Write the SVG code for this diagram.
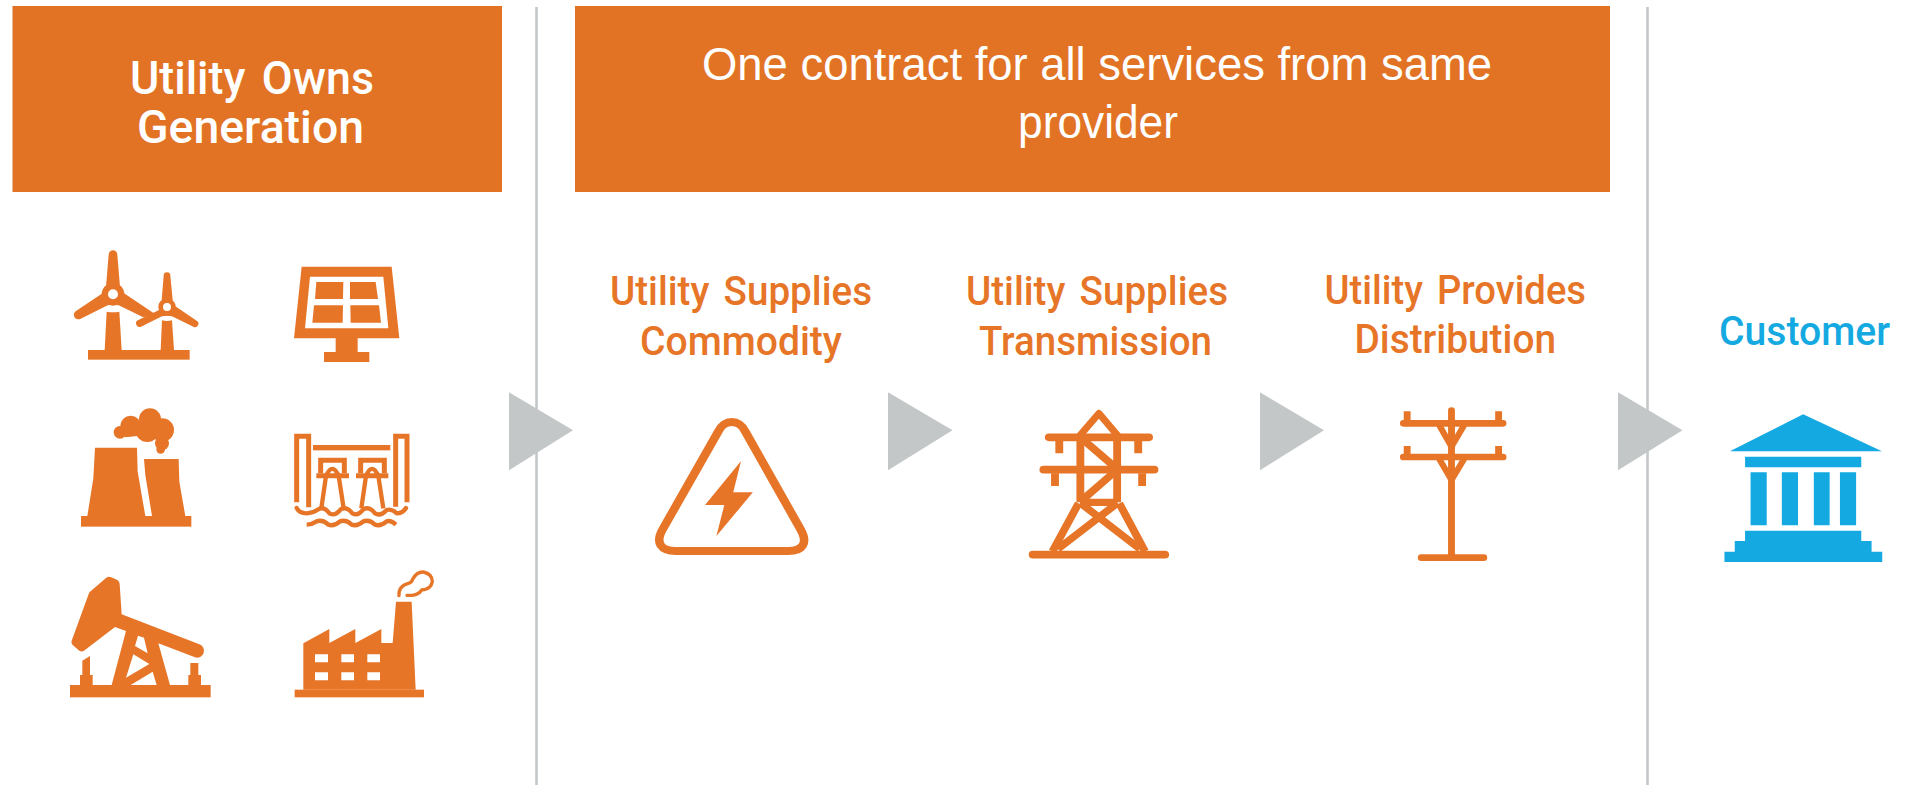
<svg xmlns="http://www.w3.org/2000/svg" width="1919" height="785" viewBox="0 0 1919 785">
<style>
.bg{fill:#fff}
.hd{fill:#E27325}
.o{fill:#E77528}
.b{fill:#14A9E1}
.w{fill:#fff}
.s{fill:none;stroke:#E77528;stroke-linecap:round;stroke-linejoin:round}
.sb{fill:none;stroke:#E77528;stroke-linecap:butt;stroke-linejoin:miter}
.div{stroke:#C5C8CA;stroke-width:2.6;fill:none}
.arr{fill:#C3C7C8}
text{font-family:"Roboto","Liberation Sans",sans-serif;font-weight:500;word-spacing:.12em}
.t1{font-size:47px;fill:#fff}
.t2{font-size:47px;fill:#fff;font-family:"Liberation Sans",Arial,sans-serif;font-weight:400;word-spacing:0}
.t3{font-size:40px;fill:#E77528}
.t4{font-size:40px;fill:#14A9E1}
</style>
<rect class="bg" width="1919" height="785"/>
<g id="dividers">
<path class="div" d="M536.5 7V785M1647.5 7V785"/>
</g>
<g id="header-generation">
<rect class="hd" x="12.5" y="6" width="489.5" height="186"/>
<text class="t1" x="130" y="94" textLength="244" lengthAdjust="spacingAndGlyphs">Utility Owns</text>
<text class="t1" x="137" y="143" textLength="227" lengthAdjust="spacingAndGlyphs">Generation</text>
</g>
<g id="header-contract">
<rect class="hd" x="575" y="6" width="1035" height="186"/>
<text class="t2" x="702" y="80" textLength="790" lengthAdjust="spacingAndGlyphs">One contract for all services from same</text>
<text class="t2" x="1018" y="138" textLength="160" lengthAdjust="spacingAndGlyphs">provider</text>
</g>
<g id="icon-wind" transform="translate(40 230) scale(.33333)">
<rect class="o" x="144" y="360" width="305" height="29"/>
<path class="o" d="M200 245Q219 249 238 245L245 360H194Z"/>
<path class="o" d="M366 271Q381 275 396 271L402 360H362Z"/>
<circle class="o" cx="219" cy="193" r="34"/>
<path class="o" d="M198 170L206 74A13 13 0 0 1 232 74L240 170Z"/>
<path class="o" d="M190 188L108 243A13 13 0 0 0 122 266L203 226Q219 222 236 226L310 262L345 252L250 188Z"/>
<circle class="o" cx="381" cy="231" r="26"/>
<path class="o" d="M365 210L371 137A10 10 0 0 1 391 137L398 210Z"/>
<path class="o" d="M362 238L295 270A10 10 0 0 0 303 290L366 259Q381 255 396 259L460 290A10 10 0 0 0 470 272L405 228Z"/>
<circle class="w" cx="219" cy="193" r="15"/>
<circle class="w" cx="381" cy="231" r="12"/>
</g>
<g id="icon-solar" transform="translate(40 230) scale(.33333)">
<path class="o" d="M785 110H1055L1078 325H953V366H988V396H852V366H887V325H762Z"/>
<path class="w" d="M810 140H1030L1045 295H795Z"/>
<path class="o" d="M829 156H910L909 207H825ZM930 156H1007L1014 207H930ZM822 226H909L908 278H817ZM931 226H1017L1023 278H932Z"/>
</g>
<g id="icon-cooling" transform="translate(40 230) scale(.33333)">
<rect class="o" x="123" y="858" width="331" height="32"/>
<path class="o" d="M165 653H291L293 725L316 858H142L160 745Z"/>
<path class="o" d="M312 687H416L418 755L436 858H336L316 735Z"/>
<circle class="o" cx="240" cy="607" r="19"/>
<path class="o" d="M240 595H300V617L255 622Z"/>
<circle class="o" cx="272" cy="588" r="31"/>
<circle class="o" cx="330" cy="568" r="33"/>
<circle class="o" cx="367" cy="600" r="35"/>
<circle class="o" cx="322" cy="600" r="36"/>
<circle class="o" cx="366" cy="640" r="21"/>
<circle class="o" cx="362" cy="658" r="13"/>
</g>
<g id="icon-hydro" transform="translate(40 230) scale(.33333)">
<path class="sb" stroke-width="15" d="M770 817V619H806V832M1067 830V619H1101V817"/>
<rect class="o" x="819" y="645" width="232" height="16"/>
<path class="sb" stroke-width="15" d="M842 730V691H913V730M962 730V691H1033V730"/>
<path class="o" d="M829 730H927V745H829ZM948 730H1045V745H948Z"/>
<path class="sb" stroke-width="13" d="M844 835L858 738Q877 695 896 738L911 835M964 835L978 738Q996 695 1015 738L1030 835"/>
<path class="s" stroke-width="13" d="M770 834Q778 850 800 850Q818 850 835 838Q852 828 868 850Q885 860 902 838Q920 828 937 850Q954 860 970 838Q988 828 1005 850Q1022 860 1040 840Q1055 835 1070 850Q1088 850 1098 834"/>
<path class="sb" stroke-width="13" d="M800 884Q815 884 830 874Q848 868 865 884Q882 890 900 874Q918 868 935 884Q952 890 970 874Q988 868 1005 884Q1022 890 1040 874Q1052 870 1068 884"/>
</g>
<g id="icon-pumpjack" transform="translate(40 520) scale(.33333)">
<rect class="o" x="90" y="495" width="422" height="37"/>
<path class="o" d="M127 422L150 408V465H158V495H120V465H127Z"/>
<path class="o" d="M451 429H475V465H483V495H445V465H451Z"/>
<path class="o" d="M150 215L198 174Q206 168 214 172L232 180Q239 184 239 192L245 283L478 373A20 20 0 0 1 465 412L355 370L390 495H215L258 333L225 321L132 392Q125 397 118 392L98 375Q92 369 95 362L146 222Q147 218 150 215Z"/>
<path class="w" d="M294 347L312 353L323 400L285 378ZM280 403L328 432L258 473ZM338 455L350 495H272Z"/>
</g>
<g id="icon-factory" transform="translate(40 520) scale(.33333)">
<rect class="o" x="764" y="509" width="388" height="23"/>
<path class="o" d="M790 370L868 327V369L946 327V369L1024 327V369H1058L1068 245H1115L1127 509H790Z"/>
<path class="w" d="M825 403H864V427H825ZM904 403H942V427H904ZM982 403H1020V427H982ZM825 457H864V481H825ZM904 457H942V481H904ZM982 457H1020V481H982Z"/>
<path class="s" stroke-width="10" d="M1077 227Q1075 198 1105 190Q1115 188 1118 178Q1130 155 1150 156Q1177 162 1177 185Q1173 208 1145 210Q1135 225 1115 226H1101"/>
</g>
<g id="node-commodity">
<text class="t3" x="610" y="305" textLength="262" lengthAdjust="spacingAndGlyphs">Utility Supplies</text>
<text class="t3" x="640" y="355" textLength="202" lengthAdjust="spacingAndGlyphs">Commodity</text>
<g transform="translate(640 390) scale(.35714 .33333)">
<path class="s" stroke-width="24" d="M219 125C235 86 279 86 295 125L448 415C473 460 455 483 415 483H100C60 483 40 460 65 415Z"/>
<path class="o" d="M283 213L182 345H236L214 438L316 307H261Z"/>
</g>
</g>
<g id="node-transmission">
<text class="t3" x="966" y="305" textLength="262" lengthAdjust="spacingAndGlyphs">Utility Supplies</text>
<text class="t3" x="979" y="355" textLength="233" lengthAdjust="spacingAndGlyphs">Transmission</text>
<g transform="translate(640 390) scale(.35714 .33333)">
<path class="s" stroke-width="23" d="M1145 142H1425M1130 239H1440M1100 494H1470"/>
<path class="s" stroke-width="20" d="M1232 136L1285 70L1337 136"/>
<path class="sb" stroke-width="22" d="M1233 142V337M1336 142V337M1228 340L1155 484M1342 340L1414 484M1232 337H1337"/>
<path class="sb" stroke-width="22" d="M1232 141L1337 238L1232 336M1170 477L1337 339M1400 477L1233 339"/>
<path class="sb" stroke-width="22" d="M1174 153V190M1395 153V190M1162 250V288M1406 250V288"/>
</g>
</g>
<g id="node-distribution">
<text class="t3" x="1324.5" y="304" textLength="261.5" lengthAdjust="spacingAndGlyphs">Utility Provides</text>
<text class="t3" x="1354.5" y="353" textLength="201.5" lengthAdjust="spacingAndGlyphs">Distribution</text>
<g transform="translate(1380 390) scale(.34376 .33333)">
<path class="s" stroke-width="20" d="M68 100H358M68 201H358M208 62V495M120 503H302"/>
<path class="o" d="M69 64H89V100H69ZM335 64H355V100H335ZM69 168H89V201H69ZM335 168H355V201H335Z"/>
<path class="sb" stroke-width="18" d="M172 105L208 170L245 105M172 206L208 270L245 206"/>
</g>
</g>
<g id="node-customer">
<text class="t4" x="1719" y="345" textLength="171" lengthAdjust="spacingAndGlyphs">Customer</text>
<g transform="translate(1380 390) scale(.34376 .33333)">
<path class="b" d="M1231 73L1460 184H1018Z"/>
<path class="b" d="M1062 200H1400V232H1062ZM1078 247H1125V406H1078ZM1169 247H1216V406H1169ZM1262 247H1308V406H1262ZM1338 247H1385V406H1338Z"/>
<path class="b" d="M1062 422H1400V453H1430V485H1461V516H1002V485H1032V453H1062Z"/>
</g>
</g>
<g id="connectors">
<path class="arr" d="M509 392.3L573 430.3L509 470.3Z"/>
<path class="arr" d="M888 392.3L952.5 430.3L888 470.3Z"/>
<path class="arr" d="M1260 392.3L1324 430.3L1260 470.3Z"/>
<path class="arr" d="M1618 392.3L1682.5 430.3L1618 470.3Z"/>
</g>
</svg>
